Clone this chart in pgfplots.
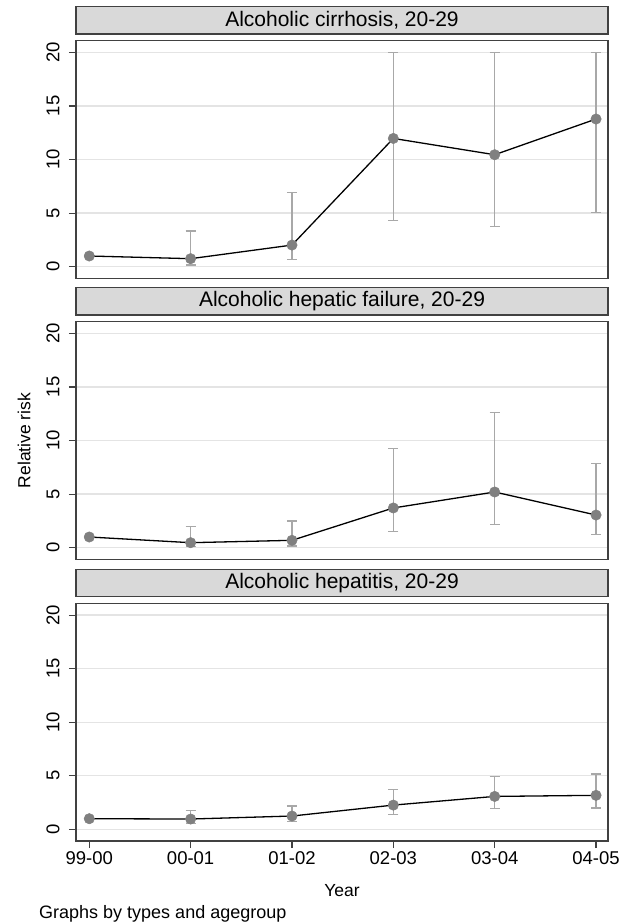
\documentclass[border=0pt]{standalone}
\usepackage{fontspec}
\setmainfont{Liberation Sans}
\usepackage{pgfplots}
\pgfplotsset{compat=1.18}
\usepackage{pgfplotstable}
\definecolor{hdr}{RGB}{217,217,217}
\definecolor{frm}{RGB}{65,65,65}
\definecolor{grd}{RGB}{228,228,228}
\definecolor{mk}{RGB}{128,128,128}
\definecolor{eb}{RGB}{168,168,168}

\pgfplotstableread{
x y lo hi
0 1.00 1.00 1.00
1 0.75 0.15 3.33
2 2.02 0.65 6.90
3 11.97 4.30 20.00
4 10.45 3.73 20.00
5 13.78 5.04 20.00
}\cirr
\pgfplotstableread{
x y lo hi
0 1.00 1.00 1.00
1 0.47 0.10 1.96
2 0.69 0.15 2.49
3 3.71 1.50 9.25
4 5.20 2.15 12.60
5 3.05 1.21 7.85
}\fail
\pgfplotstableread{
x y lo hi
0 1.00 1.00 1.00
1 0.97 0.53 1.78
2 1.25 0.72 2.18
3 2.27 1.37 3.74
4 3.08 1.93 4.95
5 3.18 1.99 5.17
}\hepa

\pgfplotsset{
  panel/.style={
    scale only axis, width=532pt, height=237.5pt,
    xmin=-0.131, xmax=5.118, ymin=-1.08, ymax=21.08,
    ytick={0,5,10,15,20},
    axis line style={frm, line width=1.3pt},
    tick style={frm, line width=1.1pt},
    tick align=outside, major tick length=7pt,
    ytick pos=left, xtick pos=bottom,
    ymajorgrids, grid style={grd, line width=1.3pt},
    /pgf/number format/assume math mode=true,
    yticklabel style={xshift=-6pt, rotate=90, anchor=south, font=\fontsize{18.5}{20}\selectfont},
    xticklabel style={font=\fontsize{18.5}{20}\selectfont},
    title style={at={(0.5,1)}, anchor=south, yshift=0pt, fill=hdr, draw=frm,
      line width=1.3pt, minimum width=532pt, minimum height=27.3pt, inner sep=0pt,
      font=\fontsize{21}{24}\selectfont},
    every axis y label/.style={at={(axis description cs:0,0.5)}, xshift=-52pt,
      rotate=90, anchor=center, font=\fontsize{17.5}{20}\selectfont},
    every axis x label/.style={at={(axis description cs:0.5,0)}, anchor=center,
      yshift=-50pt, font=\fontsize{17.5}{20}\selectfont},
  },
  ebars/.style={draw=none, mark=none, forget plot,
    error bars/.cd, y dir=both, y explicit,
    error bar style={eb, line width=1.3pt},
    error mark options={rotate=90, eb, line width=1.3pt, mark size=5pt}},
  mainline/.style={black, line width=1.3pt, mark=*,
    mark options={mk, draw=mk, mark size=5.2pt, line width=0.5pt}},
}

\begin{document}
\begin{tikzpicture}
\useasboundingbox (0,0) rectangle (630pt,922pt);

\begin{axis}[panel, at={(76pt,643.7pt)}, anchor=south west,
  title={Alcoholic cirrhosis, 20-29}, xtick=\empty]
\addplot[ebars] table[x=x, y=y,
  y error plus expr=\thisrow{hi}-\thisrow{y},
  y error minus expr=\thisrow{y}-\thisrow{lo}] {\cirr};
\addplot[mainline] table[x=x, y=y] {\cirr};
\end{axis}

\begin{axis}[panel, at={(76pt,362.7pt)}, anchor=south west,
  title={Alcoholic hepatic failure, 20-29}, xtick=\empty, ylabel={Relative risk}]
\addplot[ebars] table[x=x, y=y,
  y error plus expr=\thisrow{hi}-\thisrow{y},
  y error minus expr=\thisrow{y}-\thisrow{lo}] {\fail};
\addplot[mainline] table[x=x, y=y] {\fail};
\end{axis}

\begin{axis}[panel, at={(76pt,81pt)}, anchor=south west,
  title={Alcoholic hepatitis, 20-29},
  xtick={0,1,2,3,4,5},
  xticklabels={99-00,00-01,01-02,02-03,03-04,04-05},
  xlabel={Year}]
\addplot[ebars] table[x=x, y=y,
  y error plus expr=\thisrow{hi}-\thisrow{y},
  y error minus expr=\thisrow{y}-\thisrow{lo}] {\hepa};
\addplot[mainline] table[x=x, y=y] {\hepa};
\end{axis}

\node[anchor=base west, font=\fontsize{18}{20}\selectfont, inner sep=0pt]
  at (39pt,3pt) {Graphs by types and agegroup};
\end{tikzpicture}
\end{document}
